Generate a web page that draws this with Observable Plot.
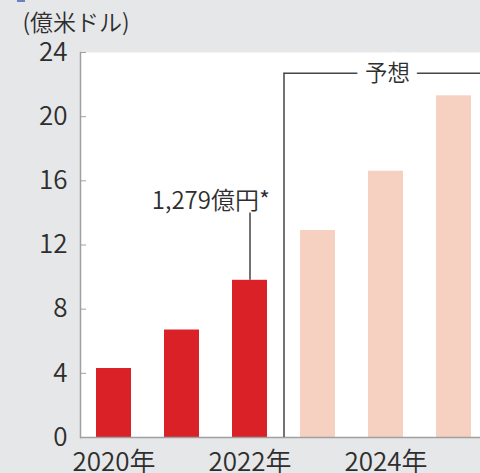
<!DOCTYPE html>
<html><head><meta charset="utf-8">
<script src="https://cdn.jsdelivr.net/npm/d3@7"></script>
<script src="https://cdn.jsdelivr.net/npm/@observablehq/plot@0.6"></script>
<style>
html,body{margin:0;padding:0;background:#e6e7e9;overflow:hidden;}
#chart{position:relative;}
#chart svg{background:transparent;display:block;}
#mark{position:absolute;left:17px;top:0;width:8px;height:2px;background:#6f80c0;}
</style></head><body><div id="chart"><div id="mark"></div></div>
<script>
const years = [2020, 2021, 2022, 2023, 2024, 2025];
const values = [4.3, 6.7, 9.8, 12.9, 16.6, 21.3];
const kinds = ["実績", "実績", "実績", "予想", "予想", "予想"];
const yTicks = [0, 4, 8, 12, 16, 20, 24];
const xTicks = [2020, 2022, 2024];
const unitLabel = "(億米ドル)";
const forecastLabel = "予想";
const forecastStart = 2022.5;
const forecastLabelYear = 2024;
const bracketLevel = 22.7;
const noteYear = 2022;
const noteText = "1,279億円*";
const noteLevel = 14;

const data = years.map((year, i) => ({year, value: values[i], kind: kinds[i]}));
const noteBar = data.filter(d => d.year === noteYear);
const font = "'Noto Sans CJK JP', 'Noto Sans', sans-serif";
const ink = "#2e2e2e";
const axisGray = "#a0a0a0";
const lineDark = "#454545";

const plot = Plot.plot({
  width: 480, height: 473,
  marginLeft: 80, marginRight: 0, marginTop: 52, marginBottom: 36,
  style: {fontFamily: font, fontWeight: 350, background: "transparent", color: ink},
  x: {type: "linear", domain: [2019.5, 2025.5], range: [79.5, 487.5]},
  y: {domain: [0, 24]},
  color: {domain: ["実績", "予想"], range: ["#da2128", "#f6d0c1"]},
  marks: [
    Plot.frame({fill: "white"}),
    Plot.rectY(data, {x1: d => d.year - 0.5, x2: d => d.year + 0.5, y: "value", fill: "kind", insetLeft: 16.5, insetRight: 16.5}),
    Plot.ruleY([0], {stroke: axisGray, strokeWidth: 1.5}),
    Plot.frame({anchor: "left", stroke: axisGray, strokeWidth: 1.5}),
    Plot.axisY({ticks: yTicks, tickSize: -6, tickPadding: 19, fontSize: 26, stroke: axisGray, fill: ink, label: null}),
    Plot.axisX({ticks: xTicks, tickSize: 0, tickPadding: 15, fontSize: 26, fill: ink, tickFormat: d => d + "年", label: null}),
    Plot.ruleX([forecastStart], {y1: 0, y2: bracketLevel, stroke: lineDark, strokeWidth: 1.5}),
    Plot.ruleY([bracketLevel], {x1: forecastStart, x2: 2025.5, stroke: lineDark, strokeWidth: 1.5}),
    Plot.text([forecastLabel], {x: forecastLabelYear, y: bracketLevel, dx: 1.5, fontSize: 22.5, fill: ink, stroke: "white", strokeWidth: 18}),
    Plot.ruleX(noteBar, {x: "year", y1: "value", y2: noteLevel, stroke: lineDark, strokeWidth: 1.5}),
    Plot.text([noteText], {x: noteYear, y: noteLevel, textAnchor: "end", lineAnchor: "bottom", dx: 20, dy: -4, fontSize: 24, fill: ink}),
    Plot.text([unitLabel], {frameAnchor: "top-left", textAnchor: "start", lineAnchor: "middle", dx: -58, dy: -29, fontSize: 23, fill: ink})
  ]
});
document.getElementById("chart").appendChild(plot);
</script></body></html>
